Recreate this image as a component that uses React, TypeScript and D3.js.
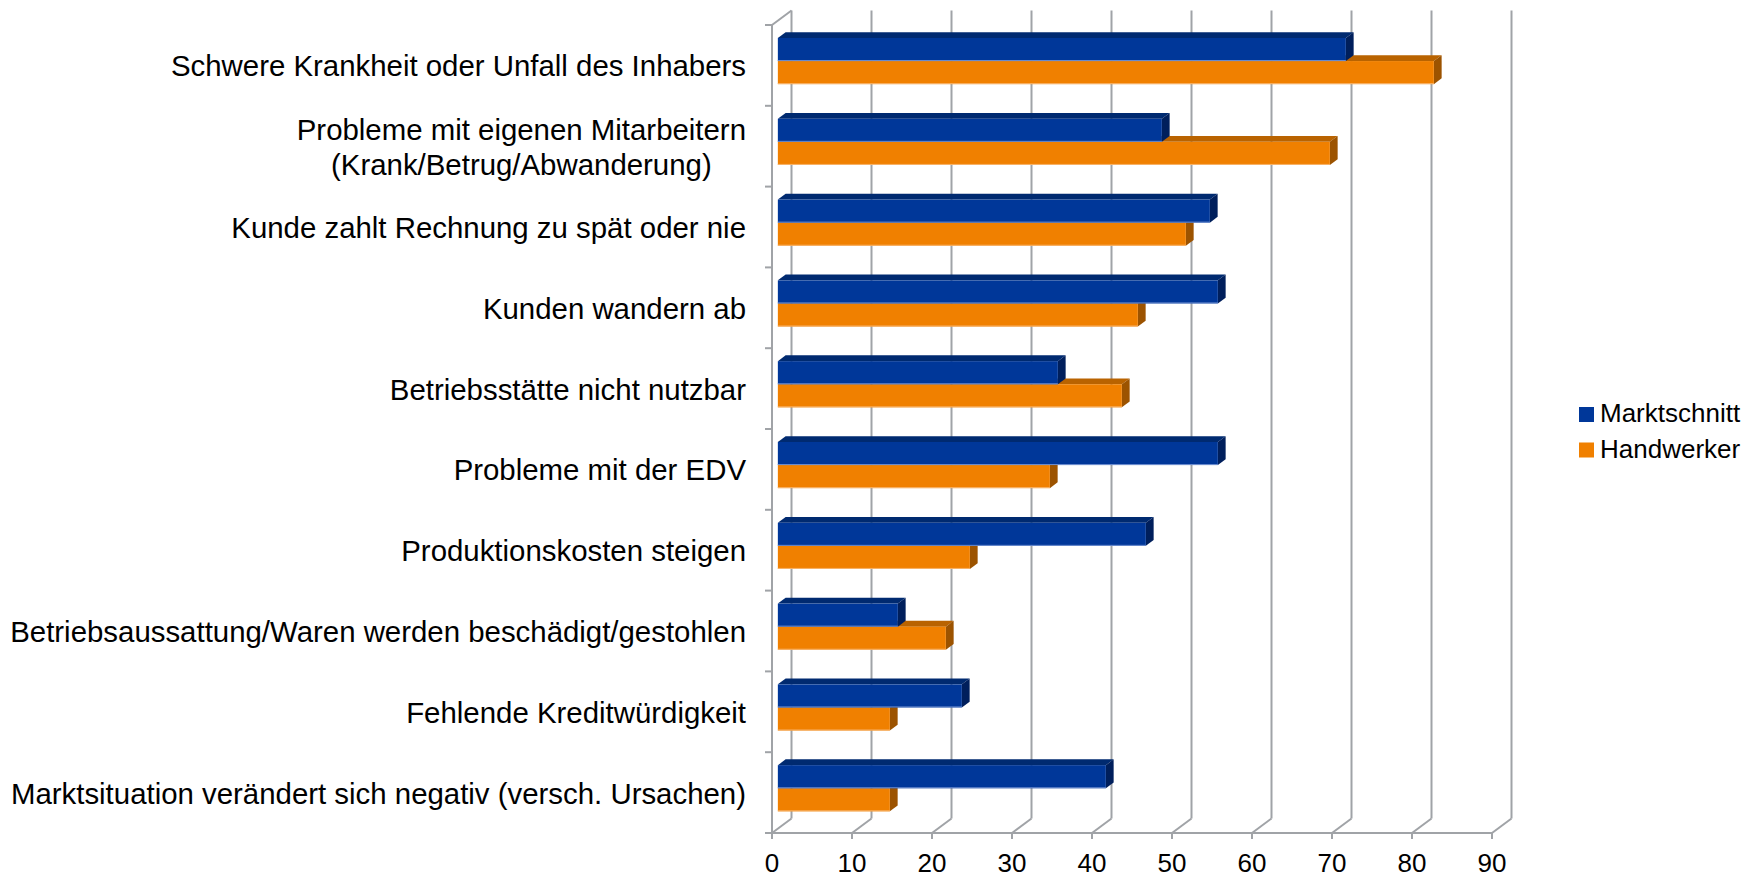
import React from "react";
import * as d3 from "d3";

const categories: string[] = [
  "Schwere Krankheit oder Unfall des Inhabers",
  "Probleme mit eigenen Mitarbeitern\n(Krank/Betrug/Abwanderung)",
  "Kunde zahlt Rechnung zu spät oder nie",
  "Kunden wandern ab",
  "Betriebsstätte nicht nutzbar",
  "Probleme mit der EDV",
  "Produktionskosten steigen",
  "Betriebsaussattung/Waren werden beschädigt/gestohlen",
  "Fehlende Kreditwürdigkeit",
  "Marktsituation verändert sich negativ (versch. Ursachen)",
];

const seriesNames: string[] = ["Marktschnitt", "Handwerker"];
const marktschnitt: number[] = [71, 48, 54, 55, 35, 55, 46, 15, 23, 41];
const handwerker: number[] = [82, 69, 51, 45, 43, 34, 24, 21, 14, 14];
const xTicks: number[] = [0, 10, 20, 30, 40, 50, 60, 70, 80, 90];

const W = 1760;
const H = 878;
const FONT = '"Liberation Sans", Arial, Helvetica, sans-serif';
const LABEL_SIZE = 29.4;

const palette = {
  Marktschnitt: { front: "#003799", top: "#002a70", side: "#001f5c", edge: "#6f8fd0" },
  Handwerker: { front: "#f08000", top: "#b96300", side: "#9c5300", edge: "#f8b56e" },
};

function measure(text: string, font: string): number {
  const c = document.createElement("canvas").getContext("2d");
  if (!c) return text.length * 14;
  c.font = font;
  return c.measureText(text).width;
}

export default function App() {
  const x = d3.scaleLinear().domain([0, 90]).range([772, 1492]);
  const y = d3.scaleBand<string>().domain(categories).range([25, 833]).paddingInner(0).paddingOuter(0);
  const sub = d3.scaleBand<string>().domain(seriesNames).range([0, y.bandwidth()]).paddingInner(0).paddingOuter(0.75);
  const D = { x: 19.5, y: -14.5 };
  const z1 = 0.3;
  const z2 = 0.7;
  const floorY = 833;
  const topY = 25;
  const grid = "#a0a3a7";

  const bars: { cat: string; s: string; v: number }[] = [];
  categories.forEach((c, i) => {
    bars.push({ cat: c, s: "Handwerker", v: handwerker[i] });
    bars.push({ cat: c, s: "Marktschnitt", v: marktschnitt[i] });
  });

  const labelFont = `${LABEL_SIZE}px ${FONT}`;

  return (
    <svg
      width={W}
      height={H}
      style={{ position: "absolute", left: 0, top: 0, background: "#fff" }}
      fontFamily={FONT}
    >
      {/* back wall gridlines */}
      {xTicks.map((t) => (
        <line key={"g" + t} x1={x(t) + D.x} x2={x(t) + D.x} y1={topY + D.y} y2={floorY + D.y} stroke={grid} strokeWidth={2} />
      ))}
      {/* floor diagonals */}
      {xTicks.map((t) => (
        <line key={"d" + t} x1={x(t)} x2={x(t) + D.x} y1={floorY} y2={floorY + D.y} stroke={grid} strokeWidth={2} />
      ))}
      {/* floor front line */}
      <line x1={x(0)} x2={x(90)} y1={floorY} y2={floorY} stroke={grid} strokeWidth={2} />
      {/* left wall */}
      <line x1={x(0)} x2={x(0)} y1={topY} y2={floorY} stroke={grid} strokeWidth={2} />
      <line x1={x(0)} x2={x(0) + D.x} y1={topY} y2={topY + D.y} stroke={grid} strokeWidth={2} />
      {/* category ticks */}
      {[...categories.map((c) => y(c) as number), floorY].map((yy, i) => (
        <line key={"ct" + i} x1={x(0) - 7} x2={x(0)} y1={yy} y2={yy} stroke={grid} strokeWidth={2} />
      ))}
      {/* value ticks */}
      {xTicks.map((t) => (
        <line key={"vt" + t} x1={x(t)} x2={x(t)} y1={floorY} y2={floorY + 6} stroke={grid} strokeWidth={2} />
      ))}

      {/* bars */}
      {bars.map((b, i) => {
        const col = (palette as any)[b.s];
        const yb = (y(b.cat) as number) + (sub(b.s) as number);
        const h = sub.bandwidth();
        const xf0 = x(0) + z1 * D.x;
        const xfv = x(b.v) + z1 * D.x;
        const xbv = x(b.v) + z2 * D.x;
        const xb0 = x(0) + z2 * D.x;
        const yf = yb + z1 * D.y;
        const ybk = yb + z2 * D.y;
        return (
          <g key={"b" + i}>
            <polygon points={`${xf0},${yf} ${xfv},${yf} ${xbv},${ybk} ${xb0},${ybk}`} fill={col.top} />
            <polygon points={`${xfv},${yf} ${xbv},${ybk} ${xbv},${ybk + h} ${xfv},${yf + h}`} fill={col.side} />
            <rect x={xf0} y={yf} width={xfv - xf0} height={h} fill={col.front} />
            <line x1={xf0} x2={xfv} y1={yf + h - 0.5} y2={yf + h - 0.5} stroke={col.edge} strokeWidth={1} />
          </g>
        );
      })}

      {/* category labels */}
      {categories.map((c) => {
        const cy = (y(c) as number) + y.bandwidth() / 2;
        const lines = c.split("\n");
        const lh = 35;
        if (lines.length === 1) {
          return (
            <text key={"l" + c} x={746} y={cy + 11} textAnchor="end" fontSize={LABEL_SIZE} fill="#000">
              {c}
            </text>
          );
        }
        const w0 = measure(lines[0], labelFont);
        const cx = 746 - w0 / 2;
        const y0 = cy - ((lines.length - 1) * lh) / 2 + 11;
        return (
          <text key={"l" + c} x={cx} y={y0} textAnchor="middle" fontSize={LABEL_SIZE} fill="#000">
            {lines.map((ln, k) => (
              <tspan key={k} x={cx} y={y0 + k * lh}>
                {ln}
              </tspan>
            ))}
          </text>
        );
      })}

      {/* value tick labels */}
      {xTicks.map((t) => (
        <text key={"tl" + t} x={x(t)} y={872} textAnchor="middle" fontSize={26} fill="#000">
          {t}
        </text>
      ))}

      {/* legend */}
      {seriesNames.map((s, i) => (
        <g key={"lg" + s}>
          <rect x={1579} y={407 + i * 35.5} width={15} height={15} fill={(palette as any)[s].front} />
          <text x={1600} y={422 + i * 35.5} fontSize={26} fill="#000">
            {s}
          </text>
        </g>
      ))}
    </svg>
  );
}
